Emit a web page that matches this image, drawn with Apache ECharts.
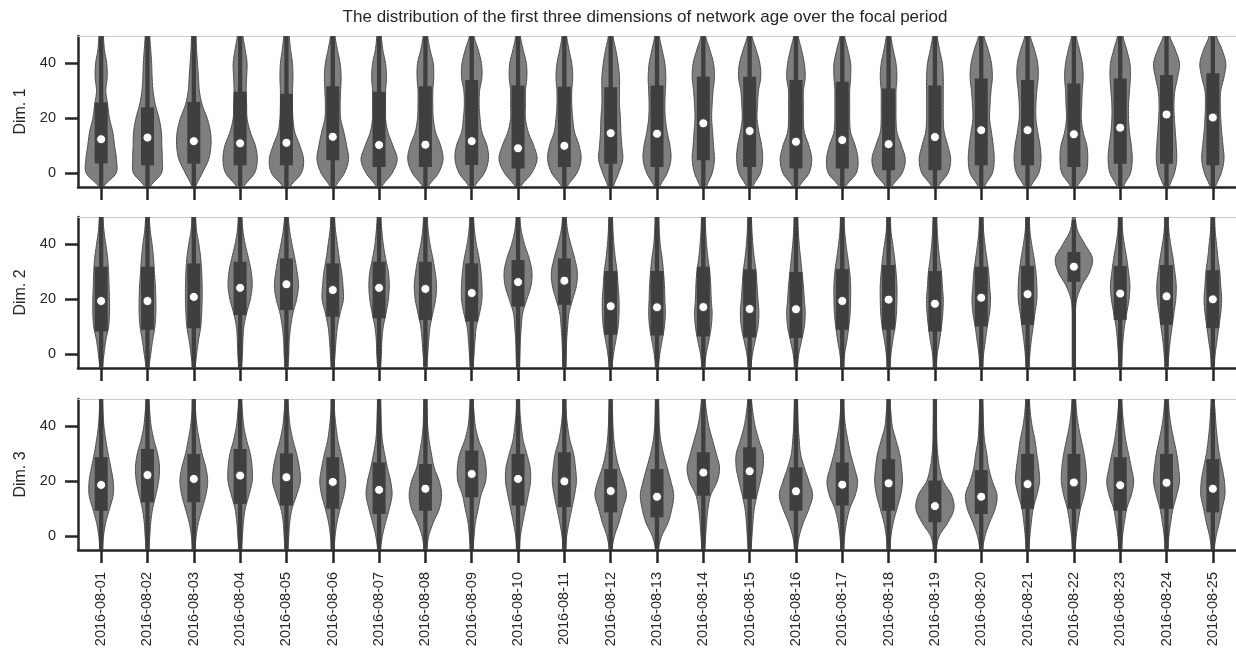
<!DOCTYPE html>
<html><head><meta charset="utf-8">
<script src="https://cdn.jsdelivr.net/npm/echarts@6/dist/echarts.min.js"></script>
<style>html,body{margin:0;padding:0;background:#fff}#c{width:1236px;height:652px}</style>
</head><body><div id="c"></div>
<script>
// ---------------- DATA ----------------
const dates = ['2016-08-01','2016-08-02','2016-08-03','2016-08-04','2016-08-05','2016-08-06','2016-08-07','2016-08-08','2016-08-09','2016-08-10','2016-08-11','2016-08-12','2016-08-13','2016-08-14','2016-08-15','2016-08-16','2016-08-17','2016-08-18','2016-08-19','2016-08-20','2016-08-21','2016-08-22','2016-08-23','2016-08-24','2016-08-25'];
const panelNames = ['Dim. 1', 'Dim. 2', 'Dim. 3'];
const yTicks = [0, 20, 40];
const titleText = 'The distribution of the first three dimensions of network age over the focal period';
// density levels (value axis) at which violin half-widths are read
const levels = [-5, 0, 5, 10, 15, 20, 25, 30, 35, 40, 45, 50];

// ---- Dim. 1 ----
const dim1Median = [12.4, 13.0, 11.7, 10.9, 11.1, 13.3, 10.3, 10.4, 11.7, 9.1, 10.0, 14.6, 14.4, 18.2, 15.4, 11.5, 12.1, 10.6, 13.2, 15.7, 15.7, 14.2, 16.6, 21.4, 20.3];
const dim1Q1 = [3.6, 2.9, 3.5, 2.9, 2.9, 4.7, 2.3, 2.3, 3.0, 1.7, 2.3, 3.5, 2.3, 4.7, 2.3, 1.7, 1.7, 1.1, 1.1, 2.9, 2.9, 2.3, 3.5, 3.5, 2.9];
const dim1Q3 = [25.8, 24.0, 26.0, 29.7, 29.0, 31.7, 29.7, 31.7, 34.0, 32.0, 31.5, 31.3, 32.0, 35.2, 35.2, 34.0, 33.3, 30.9, 32.0, 34.5, 34.0, 32.7, 34.5, 35.8, 36.4];
const dim1Lo = [-5, -5, -5, -5, -5, -5, -5, -5, -5, -5, -5, -5, -5, -5, -5, -5, -5, -5, -5, -5, -5, -5, -5, -5, -5];
const dim1Hi = [50, 50, 50, 50, 50, 50, 50, 50, 50, 50, 50, 50, 50, 50, 50, 50, 50, 50, 50, 50, 50, 50, 50, 50, 50];
const dim1Density = [
  [0.05, 0.32, 0.33, 0.29, 0.25, 0.18, 0.14, 0.10, 0.13, 0.12, 0.07, 0.05],
  [0.06, 0.30, 0.32, 0.31, 0.30, 0.25, 0.17, 0.12, 0.10, 0.09, 0.07, 0.05],
  [0.04, 0.18, 0.32, 0.37, 0.36, 0.29, 0.18, 0.12, 0.10, 0.08, 0.06, 0.05],
  [0.08, 0.31, 0.37, 0.33, 0.22, 0.15, 0.14, 0.13, 0.14, 0.15, 0.11, 0.06],
  [0.08, 0.32, 0.37, 0.29, 0.18, 0.14, 0.13, 0.13, 0.14, 0.13, 0.09, 0.06],
  [0.06, 0.25, 0.34, 0.30, 0.24, 0.17, 0.16, 0.17, 0.18, 0.16, 0.10, 0.05],
  [0.06, 0.28, 0.39, 0.30, 0.19, 0.14, 0.14, 0.14, 0.16, 0.14, 0.08, 0.05],
  [0.06, 0.28, 0.38, 0.33, 0.22, 0.17, 0.16, 0.16, 0.18, 0.17, 0.10, 0.05],
  [0.06, 0.27, 0.36, 0.33, 0.22, 0.18, 0.16, 0.17, 0.22, 0.21, 0.14, 0.05],
  [0.06, 0.29, 0.41, 0.34, 0.22, 0.16, 0.16, 0.16, 0.19, 0.18, 0.11, 0.05],
  [0.06, 0.27, 0.36, 0.32, 0.22, 0.18, 0.16, 0.16, 0.18, 0.16, 0.10, 0.05],
  [0.06, 0.17, 0.26, 0.24, 0.22, 0.21, 0.19, 0.19, 0.19, 0.16, 0.11, 0.05],
  [0.06, 0.22, 0.30, 0.28, 0.22, 0.18, 0.17, 0.18, 0.19, 0.17, 0.11, 0.05],
  [0.07, 0.19, 0.24, 0.22, 0.20, 0.18, 0.19, 0.21, 0.24, 0.22, 0.14, 0.05],
  [0.07, 0.23, 0.28, 0.26, 0.20, 0.16, 0.17, 0.19, 0.24, 0.22, 0.14, 0.05],
  [0.07, 0.28, 0.34, 0.28, 0.18, 0.16, 0.16, 0.16, 0.20, 0.18, 0.12, 0.05],
  [0.07, 0.30, 0.34, 0.28, 0.18, 0.16, 0.16, 0.16, 0.18, 0.18, 0.12, 0.05],
  [0.07, 0.29, 0.36, 0.28, 0.18, 0.16, 0.16, 0.16, 0.18, 0.16, 0.10, 0.05],
  [0.07, 0.28, 0.34, 0.28, 0.20, 0.18, 0.18, 0.18, 0.18, 0.16, 0.10, 0.05],
  [0.07, 0.24, 0.28, 0.26, 0.22, 0.18, 0.19, 0.21, 0.24, 0.22, 0.15, 0.06],
  [0.07, 0.24, 0.29, 0.27, 0.22, 0.18, 0.18, 0.20, 0.23, 0.22, 0.15, 0.06],
  [0.07, 0.26, 0.30, 0.28, 0.20, 0.16, 0.17, 0.18, 0.20, 0.18, 0.12, 0.05],
  [0.07, 0.22, 0.26, 0.24, 0.20, 0.18, 0.18, 0.20, 0.22, 0.21, 0.14, 0.06],
  [0.06, 0.17, 0.22, 0.21, 0.19, 0.17, 0.16, 0.18, 0.24, 0.28, 0.19, 0.07],
  [0.06, 0.18, 0.24, 0.22, 0.19, 0.17, 0.16, 0.17, 0.24, 0.28, 0.20, 0.08]
];

// ---- Dim. 2 ----
const dim2Median = [19.4, 19.4, 20.9, 24.2, 25.5, 23.4, 24.2, 23.8, 22.3, 26.3, 26.8, 17.5, 17.1, 17.2, 16.5, 16.4, 19.4, 19.9, 18.4, 20.6, 21.9, 31.9, 22.1, 21.1, 20.0];
const dim2Q1 = [8.3, 8.9, 9.5, 14.3, 16.1, 13.7, 13.1, 12.5, 11.9, 17.4, 18.0, 7.1, 6.8, 6.5, 6.1, 5.9, 8.9, 8.9, 8.3, 10.1, 10.7, 26.4, 12.5, 10.7, 9.5];
const dim2Q3 = [31.9, 31.9, 33.1, 33.7, 34.9, 33.1, 33.7, 33.7, 33.1, 34.3, 34.9, 30.3, 30.3, 31.9, 31.0, 30.0, 31.0, 32.5, 30.3, 31.9, 32.2, 37.3, 32.2, 32.5, 30.6];
const dim2Lo = [-5, -5, -5, -5, -5, -5, -5, -5, -5, -5, -5, -5, -5, -5, -5, -5, -5, -5, -5, -5, -5, -5, -5, -5, -5];
const dim2Hi = [50, 50, 50, 50, 50, 50, 50, 50, 50, 50, 50, 50, 50, 50, 50, 50, 50, 50, 50, 50, 50, 49, 50, 50, 50];
const dim2Density = [
  [0.03, 0.06, 0.10, 0.16, 0.18, 0.18, 0.17, 0.16, 0.14, 0.10, 0.06, 0.04],
  [0.03, 0.07, 0.11, 0.16, 0.18, 0.18, 0.17, 0.15, 0.13, 0.10, 0.06, 0.04],
  [0.03, 0.06, 0.10, 0.15, 0.17, 0.18, 0.18, 0.17, 0.15, 0.11, 0.06, 0.04],
  [0.03, 0.05, 0.06, 0.08, 0.14, 0.22, 0.26, 0.24, 0.18, 0.11, 0.06, 0.04],
  [0.03, 0.05, 0.06, 0.09, 0.14, 0.22, 0.26, 0.23, 0.18, 0.12, 0.07, 0.04],
  [0.03, 0.05, 0.07, 0.10, 0.16, 0.23, 0.22, 0.19, 0.14, 0.10, 0.06, 0.04],
  [0.03, 0.05, 0.06, 0.09, 0.15, 0.20, 0.22, 0.20, 0.14, 0.09, 0.06, 0.04],
  [0.03, 0.05, 0.07, 0.10, 0.16, 0.22, 0.24, 0.21, 0.16, 0.10, 0.06, 0.04],
  [0.03, 0.05, 0.07, 0.10, 0.17, 0.22, 0.22, 0.20, 0.16, 0.10, 0.06, 0.04],
  [0.03, 0.04, 0.05, 0.07, 0.10, 0.19, 0.28, 0.30, 0.24, 0.14, 0.07, 0.04],
  [0.03, 0.04, 0.05, 0.07, 0.10, 0.18, 0.26, 0.28, 0.22, 0.14, 0.07, 0.04],
  [0.03, 0.06, 0.11, 0.16, 0.18, 0.18, 0.16, 0.14, 0.10, 0.07, 0.05, 0.04],
  [0.03, 0.06, 0.11, 0.16, 0.18, 0.17, 0.16, 0.14, 0.11, 0.07, 0.05, 0.04],
  [0.03, 0.06, 0.12, 0.17, 0.19, 0.17, 0.16, 0.14, 0.10, 0.07, 0.05, 0.04],
  [0.03, 0.06, 0.12, 0.18, 0.20, 0.18, 0.16, 0.14, 0.10, 0.07, 0.05, 0.04],
  [0.03, 0.06, 0.12, 0.18, 0.20, 0.18, 0.16, 0.13, 0.10, 0.07, 0.05, 0.04],
  [0.03, 0.05, 0.10, 0.14, 0.17, 0.18, 0.18, 0.16, 0.12, 0.08, 0.05, 0.04],
  [0.03, 0.05, 0.09, 0.14, 0.17, 0.18, 0.18, 0.16, 0.13, 0.09, 0.05, 0.04],
  [0.03, 0.05, 0.10, 0.14, 0.17, 0.18, 0.16, 0.14, 0.10, 0.07, 0.05, 0.04],
  [0.03, 0.05, 0.09, 0.13, 0.18, 0.20, 0.18, 0.16, 0.12, 0.08, 0.05, 0.04],
  [0.03, 0.05, 0.08, 0.12, 0.16, 0.20, 0.20, 0.18, 0.14, 0.09, 0.05, 0.04],
  [0.02, 0.02, 0.02, 0.02, 0.03, 0.06, 0.17, 0.34, 0.40, 0.24, 0.08, 0.03],
  [0.03, 0.04, 0.06, 0.09, 0.14, 0.19, 0.21, 0.18, 0.14, 0.09, 0.05, 0.04],
  [0.03, 0.05, 0.08, 0.12, 0.16, 0.20, 0.21, 0.18, 0.14, 0.09, 0.05, 0.04],
  [0.03, 0.05, 0.09, 0.13, 0.17, 0.19, 0.17, 0.15, 0.11, 0.08, 0.05, 0.04]
];

// ---- Dim. 3 ----
const dim3Median = [18.7, 22.3, 20.9, 22.1, 21.5, 19.8, 16.9, 17.3, 22.7, 20.9, 20.0, 16.5, 14.4, 23.2, 23.7, 16.4, 18.8, 19.3, 11.0, 14.4, 19.0, 19.6, 18.6, 19.5, 17.3];
const dim3Q1 = [9.3, 12.4, 12.4, 11.8, 11.2, 10.0, 8.1, 9.3, 14.2, 11.2, 10.6, 8.7, 6.9, 14.8, 13.6, 9.3, 11.2, 9.3, 5.1, 8.1, 10.0, 10.0, 9.3, 10.0, 8.7];
const dim3Q3 = [28.8, 31.8, 30.0, 31.8, 30.2, 28.8, 26.9, 26.3, 31.2, 30.0, 30.6, 24.5, 24.5, 30.6, 32.4, 25.1, 26.9, 28.1, 20.3, 24.1, 30.0, 30.0, 28.8, 30.0, 28.1];
const dim3Lo = [-5, -5, -5, -5, -5, -5, -5, -5, -5, -5, -5, -5, -5, -5, -5, -5, -5, -5, -5, -5, -5, -5, -5, -5, -5];
const dim3Hi = [50, 50, 50, 50, 50, 50, 50, 50, 50, 50, 50, 50, 50, 50, 50, 50, 50, 50, 50, 50, 50, 50, 50, 50, 50];
const dim3Density = [
  [0.03, 0.05, 0.10, 0.18, 0.26, 0.26, 0.21, 0.15, 0.10, 0.06, 0.04, 0.03],
  [0.03, 0.05, 0.07, 0.11, 0.18, 0.24, 0.26, 0.22, 0.14, 0.08, 0.05, 0.03],
  [0.03, 0.05, 0.10, 0.18, 0.26, 0.30, 0.26, 0.18, 0.12, 0.07, 0.04, 0.03],
  [0.03, 0.05, 0.07, 0.11, 0.19, 0.26, 0.26, 0.22, 0.14, 0.08, 0.05, 0.03],
  [0.03, 0.05, 0.07, 0.12, 0.22, 0.30, 0.28, 0.22, 0.14, 0.08, 0.05, 0.03],
  [0.03, 0.05, 0.09, 0.16, 0.24, 0.28, 0.24, 0.18, 0.11, 0.07, 0.04, 0.03],
  [0.03, 0.07, 0.14, 0.22, 0.28, 0.25, 0.18, 0.12, 0.07, 0.05, 0.04, 0.03],
  [0.03, 0.07, 0.17, 0.30, 0.35, 0.30, 0.19, 0.13, 0.08, 0.05, 0.04, 0.03],
  [0.03, 0.05, 0.08, 0.14, 0.20, 0.30, 0.31, 0.26, 0.15, 0.08, 0.05, 0.03],
  [0.03, 0.05, 0.10, 0.16, 0.22, 0.27, 0.26, 0.19, 0.11, 0.07, 0.04, 0.03],
  [0.03, 0.05, 0.10, 0.16, 0.22, 0.26, 0.24, 0.20, 0.12, 0.07, 0.04, 0.03],
  [0.03, 0.08, 0.18, 0.26, 0.34, 0.28, 0.18, 0.11, 0.07, 0.05, 0.04, 0.03],
  [0.03, 0.10, 0.24, 0.32, 0.36, 0.30, 0.22, 0.14, 0.08, 0.05, 0.04, 0.03],
  [0.03, 0.05, 0.07, 0.10, 0.16, 0.30, 0.35, 0.28, 0.20, 0.12, 0.07, 0.04],
  [0.03, 0.05, 0.07, 0.10, 0.16, 0.23, 0.29, 0.29, 0.20, 0.12, 0.07, 0.04],
  [0.03, 0.07, 0.16, 0.28, 0.36, 0.28, 0.18, 0.10, 0.07, 0.05, 0.04, 0.03],
  [0.03, 0.05, 0.09, 0.16, 0.28, 0.33, 0.26, 0.18, 0.12, 0.07, 0.04, 0.03],
  [0.03, 0.05, 0.10, 0.18, 0.26, 0.30, 0.28, 0.24, 0.16, 0.08, 0.05, 0.03],
  [0.03, 0.09, 0.28, 0.41, 0.36, 0.18, 0.10, 0.06, 0.04, 0.035, 0.03, 0.03],
  [0.03, 0.08, 0.18, 0.30, 0.34, 0.24, 0.16, 0.12, 0.07, 0.05, 0.04, 0.03],
  [0.03, 0.05, 0.08, 0.12, 0.20, 0.26, 0.24, 0.20, 0.16, 0.10, 0.06, 0.04],
  [0.03, 0.05, 0.09, 0.14, 0.22, 0.27, 0.26, 0.22, 0.16, 0.10, 0.06, 0.04],
  [0.03, 0.05, 0.09, 0.14, 0.24, 0.29, 0.24, 0.18, 0.12, 0.08, 0.05, 0.03],
  [0.03, 0.05, 0.09, 0.14, 0.22, 0.28, 0.26, 0.22, 0.16, 0.10, 0.06, 0.04],
  [0.03, 0.07, 0.14, 0.20, 0.26, 0.25, 0.20, 0.14, 0.10, 0.07, 0.05, 0.03]
];

// ---------------- RENDER ----------------
const panels = [
  {median: dim1Median, q1: dim1Q1, q3: dim1Q3, lo: dim1Lo, hi: dim1Hi, density: dim1Density},
  {median: dim2Median, q1: dim2Q1, q3: dim2Q3, lo: dim2Lo, hi: dim2Hi, density: dim2Density},
  {median: dim3Median, q1: dim3Q1, q3: dim3Q3, lo: dim3Lo, hi: dim3Hi, density: dim3Density}
];

const FILL = '#7f7f7f', DARK = '#3f3f3f', AXIS = '#262626';
const FONT = '"Liberation Sans", Arial, sans-serif';

function makeRender(p) {
  return function (params, api) {
    const i = api.value(0);
    const dens = p.density[i];
    const cx = api.coord([i, 0])[0];
    const band = api.size([1, 0])[0];
    const n = levels.length;
    const right = [], left = [];
    const STEPS = 10;
    for (let k = 0; k < n - 1; k++) {
      const p0 = dens[Math.max(k - 1, 0)], p1 = dens[k], p2 = dens[k + 1], p3 = dens[Math.min(k + 2, n - 1)];
      for (let s = 0; s < STEPS; s++) {
        const t = s / STEPS;
        let w = 0.5 * ((2 * p1) + (-p0 + p2) * t + (2 * p0 - 5 * p1 + 4 * p2 - p3) * t * t + (-p0 + 3 * p1 - 3 * p2 + p3) * t * t * t);
        w = Math.max(w, 0.015);
        const v = levels[k] + (levels[k + 1] - levels[k]) * t;
        const y = api.coord([i, v])[1];
        right.push([cx + w * band, y]);
        left.push([cx - w * band, y]);
      }
    }
    const yEnd = api.coord([i, levels[n - 1]])[1];
    right.push([cx + dens[n - 1] * band, yEnd]);
    left.push([cx - dens[n - 1] * band, yEnd]);
    const pts = right.concat(left.reverse());

    const yMed = api.coord([i, p.median[i]])[1];
    const yQ1 = api.coord([i, p.q1[i]])[1];
    const yQ3 = api.coord([i, p.q3[i]])[1];
    const yLo = api.coord([i, p.lo[i]])[1];
    const yHi = api.coord([i, p.hi[i]])[1];
    const boxW = 13;
    return {
      type: 'group',
      children: [
        {type: 'polygon', shape: {points: pts}, style: {fill: FILL, stroke: '#4a4a4a', lineWidth: 1}},
        {type: 'line', shape: {x1: cx, y1: yLo, x2: cx, y2: yHi}, style: {stroke: DARK, lineWidth: 4.3}},
        {type: 'rect', shape: {x: cx - boxW / 2, y: yQ3, width: boxW, height: yQ1 - yQ3}, style: {fill: DARK}},
        {type: 'circle', shape: {cx: cx, cy: yMed, r: 4.5}, style: {fill: '#ffffff', stroke: DARK, lineWidth: 1}}
      ]
    };
  };
}

const gridTops = [36, 217, 399];
const gridHeight = 151;
const grids = [], xAxes = [], yAxes = [], series = [];
panels.forEach((p, g) => {
  grids.push({left: 78, right: 0, top: gridTops[g], height: gridHeight});
  xAxes.push({
    type: 'category', gridIndex: g, data: dates, position: 'bottom',
    axisLine: {show: true, onZero: false, lineStyle: {color: AXIS, width: 2.5}},
    axisTick: {show: true, interval: 0, alignWithLabel: true, length: 13, lineStyle: {color: AXIS, width: 2.5}},
    axisLabel: {show: g === 2, interval: 0, rotate: 90, margin: 22, fontSize: 14.5, color: AXIS, fontFamily: FONT},
    splitLine: {show: false}
  });
  xAxes.push({
    type: 'category', gridIndex: g, data: dates, position: 'top',
    axisLine: {show: true, onZero: false, lineStyle: {color: '#cccccc', width: 1.2}},
    axisTick: {show: false}, axisLabel: {show: false}, splitLine: {show: false}
  });
  yAxes.push({
    type: 'value', gridIndex: g, min: -5, max: 50,
    name: panelNames[g], nameLocation: 'middle', nameGap: 48, nameRotate: 90,
    nameTextStyle: {fontSize: 16, color: AXIS, fontFamily: FONT},
    axisLine: {show: true, onZero: false, lineStyle: {color: AXIS, width: 2.5}},
    axisTick: {show: true, length: 13, customValues: yTicks, lineStyle: {color: AXIS, width: 2.5}},
    axisLabel: {customValues: yTicks, margin: 22, fontSize: 14.5, color: AXIS, fontFamily: FONT},
    splitLine: {show: false}
  });
  series.push({
    type: 'custom', xAxisIndex: g * 2, yAxisIndex: g, clip: true,
    renderItem: makeRender(p),
    encode: {x: 0, y: 1},
    data: dates.map((d, i) => [i, p.median[i]]),
    silent: true
  });
});

const chart = echarts.init(document.getElementById('c'), null, {renderer: 'canvas'});
chart.setOption({
  animation: false,
  backgroundColor: '#ffffff',
  title: {text: titleText, left: 640, top: 4, textAlign: 'center',
    textStyle: {fontSize: 17, fontWeight: 'normal', color: AXIS, fontFamily: FONT}},
  grid: grids, xAxis: xAxes, yAxis: yAxes, series: series
});
</script></body></html>
